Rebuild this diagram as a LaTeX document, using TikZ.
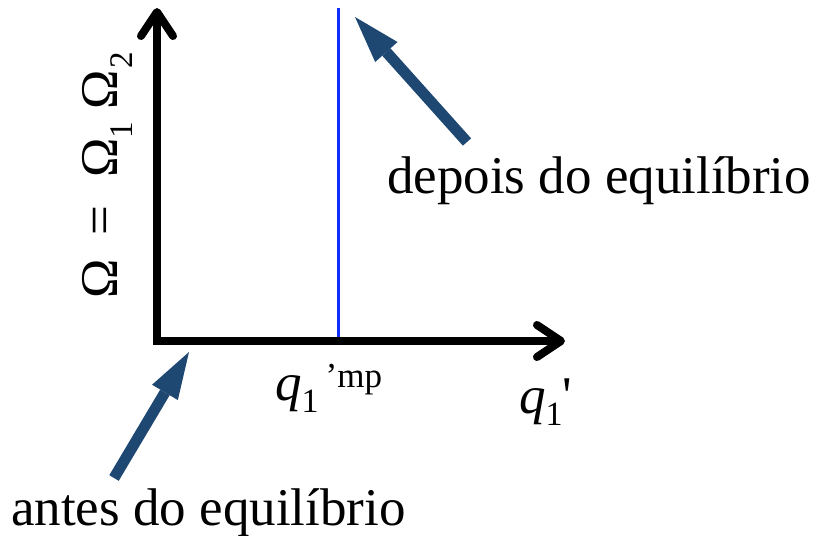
\documentclass[tikz,border=0pt]{standalone}
\usepackage{fontspec}
\setmainfont{Liberation Serif}
\usetikzlibrary{arrows.meta}
\definecolor{cNavy}{RGB}{30,72,114}
\definecolor{cBlue}{RGB}{16,44,255}
\tikzset{
  axisline/.style={line width=8pt, line join=miter,
    {Straight Barb[length=24pt,width=32pt,round]}-{Straight Barb[length=24pt,width=32pt,round]}},
  pointer/.style={-{Triangle[length=47pt,width=30pt,line width=0pt]}, draw=cNavy, line width=11pt},
  mpline/.style={draw=cBlue, line width=3pt},
  lbl/.style={inner sep=0pt, font=\fontsize{53}{60}\selectfont},
}
\newcommand{\lowsub}[2]{\raisebox{-#1}{\fontsize{34}{36}\selectfont #2}}
\newcommand{\omsub}[1]{\raisebox{-15pt}{\fontsize{33}{33}\selectfont #1}}

\begin{document}
\begin{tikzpicture}[x=1pt, y=-1pt]
\useasboundingbox (0,0) rectangle (815,536);
% axes
\coordinate (origin) at (157,341);
\coordinate (yend) at (157,8);
\coordinate (xend) at (565,341);
\draw[axisline] (yend) -- (origin) -- (xend);
% most probable value
\coordinate (mpbase) at (338,337);
\coordinate (mptop) at (338,8);
\draw[mpline] (mpbase) -- (mptop);
% labels
\node[lbl, rotate=90, anchor=base west] (lblomega) at (117,299)
  {Ω\kern24pt=\kern28ptΩ\omsub{1}\kern12ptΩ\kern2pt\omsub{2}};
\node[lbl, anchor=base west] (lblmp) at (275,400)
  {\textit{q}\lowsub{12pt}{1}\kern7pt\raisebox{13pt}{\fontsize{35}{36}\selectfont ’mp}};
\node[lbl, anchor=base west] (lblq) at (519,413)
  {\textit{q}\lowsub{12pt}{1}\textquotesingle};
\node[lbl, anchor=base west] (lbldepois) at (387,193) {depois do equilíbrio};
\node[lbl, anchor=base west] (lblantes) at (11,525) {antes do equilíbrio};
% pointers
\coordinate (depoistail) at (467,142);
\coordinate (depoistip) at (355,17);
\coordinate (antestail) at (114,478);
\coordinate (antestip) at (189,352);
\draw[pointer] (depoistail) -- (depoistip);
\draw[pointer] (antestail) -- (antestip);
\end{tikzpicture}
\end{document}
